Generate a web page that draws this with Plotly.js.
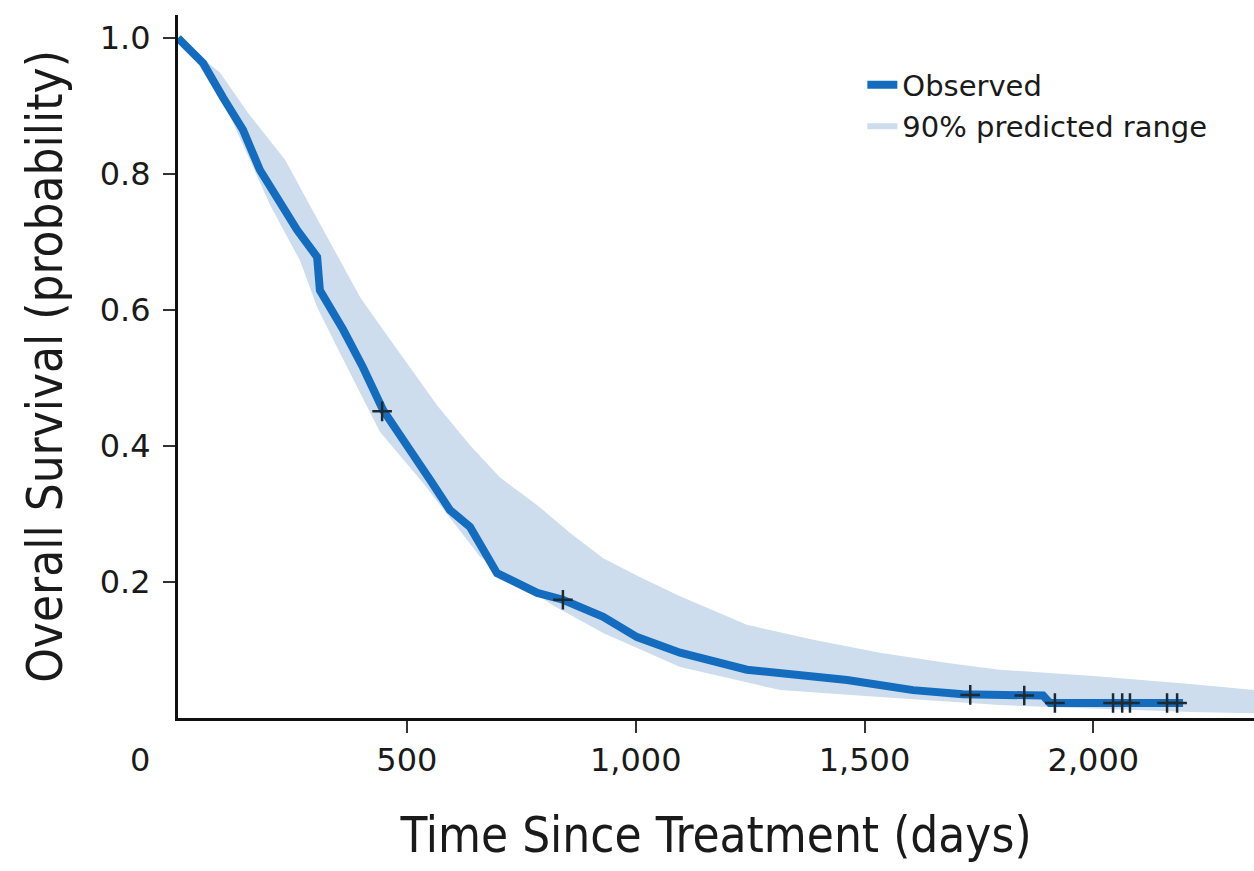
<!DOCTYPE html>
<html>
<head>
<meta charset="utf-8">
<script src="https://cdn.plot.ly/plotly-3.0.1.min.js"></script>
<style>
  html, body { margin: 0; padding: 0; background: #ffffff; }
  #chart { width: 1254px; height: 871px; }
</style>
</head>
<body>
<div id="chart"></div>
<script>
// Observed Kaplan-Meier curve (days, survival probability)
const obsDays = [0, 55, 98, 142, 179, 229, 260, 304, 310, 361, 404, 448, 479, 507, 551, 594, 638, 697, 785, 841, 929, 1003, 1097, 1243, 1462, 1606, 1715, 1890, 1905, 2196];
const obsSurv = [1.0, 0.963, 0.913, 0.865, 0.806, 0.751, 0.718, 0.678, 0.629, 0.571, 0.516, 0.453, 0.424, 0.394, 0.350, 0.306, 0.281, 0.213, 0.184, 0.174, 0.149, 0.119, 0.096, 0.071, 0.056, 0.041, 0.035, 0.033, 0.022, 0.022];

// Censoring marks
const censDays = [446, 841, 1731, 1849, 1916, 2043, 2063, 2080, 2161, 2183];
const censSurv = [0.451, 0.174, 0.034, 0.033, 0.022, 0.022, 0.022, 0.022, 0.022, 0.022];

// 90% predicted range: upper bound
const upDays = [0, 92, 153, 234, 288, 347, 398, 448, 507, 566, 638, 703, 785, 857, 929, 1010, 1097, 1243, 1388, 1534, 1681, 1796, 1993, 2212, 2351];
const upSurv = [1.0, 0.949, 0.890, 0.821, 0.754, 0.681, 0.619, 0.571, 0.516, 0.460, 0.401, 0.354, 0.313, 0.272, 0.235, 0.207, 0.179, 0.137, 0.115, 0.096, 0.081, 0.071, 0.062, 0.050, 0.041];

// 90% predicted range: lower bound
const loDays = [0, 48, 114, 201, 267, 304, 347, 398, 441, 535, 660, 819, 929, 1097, 1316, 1534, 1796, 2212, 2351];
const loSurv = [1.0, 0.958, 0.885, 0.755, 0.672, 0.604, 0.546, 0.478, 0.421, 0.346, 0.237, 0.166, 0.125, 0.075, 0.041, 0.031, 0.019, 0.009, 0.007];

// Axis ticks
const xTickVals = [500, 1000, 1500, 2000];
const xTickText = ["500", "1,000", "1,500", "2,000"];
const yTickVals = [0.2, 0.4, 0.6, 0.8, 1.0];
const yTickText = ["0.2", "0.4", "0.6", "0.8", "1.0"];

const lineBlue = "#136cbd";
const bandBlue = "#cddded";
const tickFont = { family: "DejaVu Sans, Arial, sans-serif", size: 32, color: "#1a1a1a" };
const titleFont = { family: "Liberation Sans Narrow, DejaVu Sans Condensed, Arial Narrow, sans-serif", size: 49, color: "#1a1a1a" };

const traces = [
  {
    x: loDays, y: loSurv, type: "scatter", mode: "lines",
    line: { width: 0, color: bandBlue }, showlegend: false, hoverinfo: "skip"
  },
  {
    x: upDays, y: upSurv, type: "scatter", mode: "lines",
    name: "90% predicted range",
    fill: "tonexty", fillcolor: bandBlue,
    line: { width: 0, color: bandBlue }, legendrank: 2
  },
  {
    x: obsDays, y: obsSurv, type: "scatter", mode: "lines",
    name: "Observed",
    line: { width: 8, color: lineBlue }, legendrank: 1
  },
  {
    x: censDays, y: censSurv, type: "scatter", mode: "markers",
    marker: { symbol: "cross-thin", size: 14, line: { width: 2.5, color: "#1f2a30" } },
    showlegend: false
  }
];

const layout = {
  width: 1254, height: 871,
  margin: { l: 178, r: 0, t: 15, b: 153 },
  paper_bgcolor: "#ffffff", plot_bgcolor: "#ffffff",
  showlegend: true,
  legend: {
    x: 0.636, y: 0.937, xanchor: "left", yanchor: "top",
    traceorder: "normal",
    font: { family: "DejaVu Sans, Arial, sans-serif", size: 29, color: "#1a1a1a" },
    bgcolor: "rgba(0,0,0,0)", tracegroupgap: 0, itemwidth: 30
  },
  xaxis: {
    range: [0, 2351], showgrid: false, zeroline: false,
    showline: true, linecolor: "#111", linewidth: 3,
    ticks: "outside", ticklen: 12, tickwidth: 2, tickcolor: "#333",
    tickvals: xTickVals, ticktext: xTickText, tickfont: tickFont,
    title: { text: "Time Since Treatment (days)", font: titleFont, standoff: 40 },
    automargin: false
  },
  yaxis: {
    range: [0, 1.034], showgrid: false, zeroline: false,
    showline: true, linecolor: "#111", linewidth: 3,
    ticks: "outside", ticklen: 12, tickwidth: 2, tickcolor: "#333",
    ticklabelstandoff: 6,
    tickvals: yTickVals, ticktext: yTickText, tickfont: tickFont,
    title: { text: "Overall Survival (probability)", font: titleFont, standoff: 22 },
    automargin: false
  },
  annotations: [
    {
      text: "0", xref: "paper", yref: "paper",
      x: -0.035, y: -0.06, xanchor: "center", yanchor: "middle",
      showarrow: false, font: tickFont
    }
  ]
};

Plotly.newPlot("chart", traces, layout, { displayModeBar: false, staticPlot: true });
</script>
</body>
</html>
